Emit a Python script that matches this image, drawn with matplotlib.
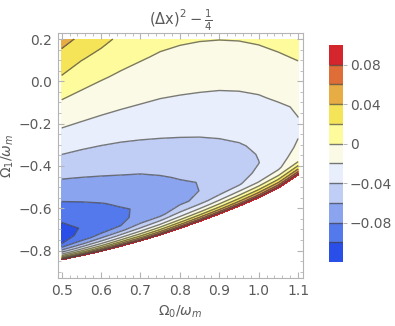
import matplotlib.pyplot as plt
import numpy as np
from matplotlib.ticker import MultipleLocator

# columns of the sampled field (Omega_0 / omega_m)
x_cols = [0.50, 0.55, 0.60, 0.65, 0.70, 0.75, 0.80, 0.85, 0.90, 0.95, 1.00, 1.05, 1.10]
# lower edge of the defined region for each column
edge_y = [-0.844, -0.825, -0.804, -0.780, -0.755, -0.727, -0.696, -0.663,
          -0.628, -0.591, -0.551, -0.505, -0.443]
top_y = 0.2
# fraction of the way from the lower edge up to top_y
t_rows = [0, 0.004, 0.01, 0.018, 0.028, 0.04, 0.055, 0.075, 0.1, 0.13, 0.17,
          0.22, 0.28, 0.35, 0.43, 0.52, 0.62, 0.72, 0.82, 0.91, 1.0]

# (Delta x)^2 - 1/4, one list per column, bottom to top
z_cols = [
    [0.100, 0.0653, 0.0344, 0.0040, -0.0249, -0.0516, -0.0775, -0.1005, -0.1059, -0.1078, -0.0999,
     -0.0892, -0.0767, -0.0629, -0.0482, -0.0326, -0.0163, -0.0009, 0.0174, 0.0325, 0.047],
    [0.100, 0.0701, 0.0416, 0.0145, -0.0124, -0.0373, -0.0628, -0.0850, -0.0965, -0.0987, -0.0952,
     -0.0854, -0.0743, -0.0619, -0.0493, -0.0353, -0.0199, -0.0063, 0.0080, 0.0215, 0.036],
    [0.100, 0.0736, 0.0480, 0.0228, -0.0020, -0.0257, -0.0493, -0.0745, -0.0880, -0.0921, -0.0895,
     -0.0813, -0.0718, -0.0607, -0.0496, -0.0370, -0.0226, -0.0102, 0.0019, 0.0137, 0.026],
    [0.100, 0.0763, 0.0531, 0.0301, 0.0071, -0.0158, -0.0380, -0.0628, -0.0800, -0.0834, -0.0822,
     -0.0765, -0.0685, -0.0592, -0.0492, -0.0378, -0.0246, -0.0132, -0.0028, 0.0066, 0.016],
    [0.100, 0.0785, 0.0572, 0.0360, 0.0148, -0.0064, -0.0280, -0.0514, -0.0677, -0.0754, -0.0775,
     -0.0748, -0.0680, -0.0573, -0.0481, -0.0378, -0.0261, -0.0156, -0.0064, 0.0019, 0.0102],
    [0.100, 0.0804, 0.0607, 0.0410, 0.0212, 0.0015, -0.0197, -0.0414, -0.0638, -0.0703, -0.0716,
     -0.0693, -0.0628, -0.0547, -0.0465, -0.0373, -0.0273, -0.0177, -0.0095, -0.0021, 0.0053],
    [0.100, 0.0827, 0.0645, 0.0461, 0.0276, 0.0091, -0.0107, -0.0320, -0.0484, -0.0621, -0.0657,
     -0.0636, -0.0580, -0.0518, -0.0446, -0.0365, -0.0274, -0.0186, -0.0110, -0.0042, 0.0025],
    [0.100, 0.0847, 0.0678, 0.0505, 0.0331, 0.0156, -0.0031, -0.0238, -0.0433, -0.0575, -0.0598,
     -0.0592, -0.0556, -0.0492, -0.0427, -0.0353, -0.0271, -0.0190, -0.0119, -0.0054, 0.0010],
    [0.100, 0.0864, 0.0706, 0.0543, 0.0378, 0.0214, 0.0041, -0.0159, -0.0358, -0.0473, -0.0530,
     -0.0526, -0.0497, -0.0452, -0.0401, -0.0336, -0.0262, -0.0190, -0.0120, -0.0058, 0.0004],
    [0.100, 0.0879, 0.0731, 0.0578, 0.0426, 0.0275, 0.0111, -0.0078, -0.0273, -0.0418, -0.0459,
     -0.0465, -0.0452, -0.0420, -0.0368, -0.0310, -0.0245, -0.0179, -0.0112, -0.0052, 0.0008],
    [0.100, 0.0892, 0.0754, 0.0611, 0.0474, 0.0330, 0.0173, -0.0005, -0.0197, -0.0291, -0.0370,
     -0.0403, -0.0391, -0.0364, -0.0320, -0.0272, -0.0218, -0.0157, -0.0092, -0.0034, 0.0024],
    [0.100, 0.0905, 0.0775, 0.0648, 0.0518, 0.0380, 0.0238, 0.0073, -0.0107, -0.0223, -0.0268,
     -0.0301, -0.0310, -0.0301, -0.0278, -0.0235, -0.0173, -0.0114, -0.0055, -0.0001, 0.005],
    [0.100, 0.0918, 0.0797, 0.0689, 0.0564, 0.0442, 0.0311, 0.0157, -0.0011, -0.0060, -0.0120,
     -0.0173, -0.0206, -0.0209, -0.0199, -0.0176, -0.0136, -0.0081, -0.0010, 0.0037, 0.008],
]

levels = [-0.12, -0.10, -0.08, -0.06, -0.04, -0.02, 0.0, 0.02, 0.04, 0.06, 0.08, 0.10]
band_colors = ['#2a4fe8', '#5479ec', '#8ba4f0', '#c0cdf5', '#e8eefb', '#fbfae6',
               '#fefb9d', '#f6e458', '#e8ac45', '#de6d37', '#d4242c']
cbar_ticks = [-0.08, -0.04, 0.0, 0.04, 0.08]
cbar_labels = ['\u22120.08', '\u22120.04', '0', '0.04', '0.08']
x_ticks = [0.5, 0.6, 0.7, 0.8, 0.9, 1.0, 1.1]
x_labels = ['0.5', '0.6', '0.7', '0.8', '0.9', '1.0', '1.1']
y_ticks = [-0.8, -0.6, -0.4, -0.2, 0.0, 0.2]
y_labels = ['\u22120.8', '\u22120.6', '\u22120.4', '\u22120.2', '0.0', '0.2']

X, T = np.meshgrid(x_cols, t_rows)
E = np.array(edge_y)[None, :]
Y = E + T * (top_y - E)
Z = np.array(z_cols).T

text_c = '#5a5a5a'
frame_c = '#b4b4b4'

fig = plt.figure(figsize=(3.95, 3.26), dpi=100)
ax = fig.add_axes([0.1468, 0.1472, 0.6203, 0.7516])
cf = ax.contourf(X, Y, Z, levels=levels, colors=band_colors)
cl = ax.contour(X, Y, Z, levels=levels[1:-1], colors='#444444',
                linewidths=1.0, alpha=0.7, linestyles='solid',
                negative_linestyles='solid')

ax.set_xlim(0.4906, 1.1124)
ax.set_ylim(-0.9295, 0.2284)
ax.set_xticks(x_ticks, x_labels)
ax.set_yticks(y_ticks, y_labels)
ax.xaxis.set_minor_locator(MultipleLocator(0.02))
ax.yaxis.set_minor_locator(MultipleLocator(0.05))
ax.tick_params(which='both', direction='in', top=True, right=True,
               color=frame_c, labelcolor=text_c, labelsize=10)
ax.tick_params(which='major', length=4, width=0.8, pad=4)
ax.tick_params(which='minor', length=2.2, width=0.6)
for sp in ax.spines.values():
    sp.set_color(frame_c)

ax.set_xlabel(r'$\Omega_0/\omega_m$', color=text_c, fontsize=10, labelpad=4)
ax.set_ylabel(r'$\Omega_1/\omega_m$', color=text_c, fontsize=10, labelpad=2)
ax.set_title(r'$(\Delta \mathrm{x})^2-\frac{1}{4}$', color=text_c, fontsize=10.5, pad=6)

cax = fig.add_axes([0.833, 0.1963, 0.0354, 0.6656])
cbar = fig.colorbar(cf, cax=cax, ticks=cbar_ticks)
cbar.ax.set_yticklabels(cbar_labels)
cbar.add_lines(cl)
cbar.outline.set_visible(False)
cbar.ax.tick_params(length=3, width=0.7, color=frame_c, labelcolor=text_c,
                    labelsize=10, pad=2)

fig.savefig('out.png', dpi=100)
